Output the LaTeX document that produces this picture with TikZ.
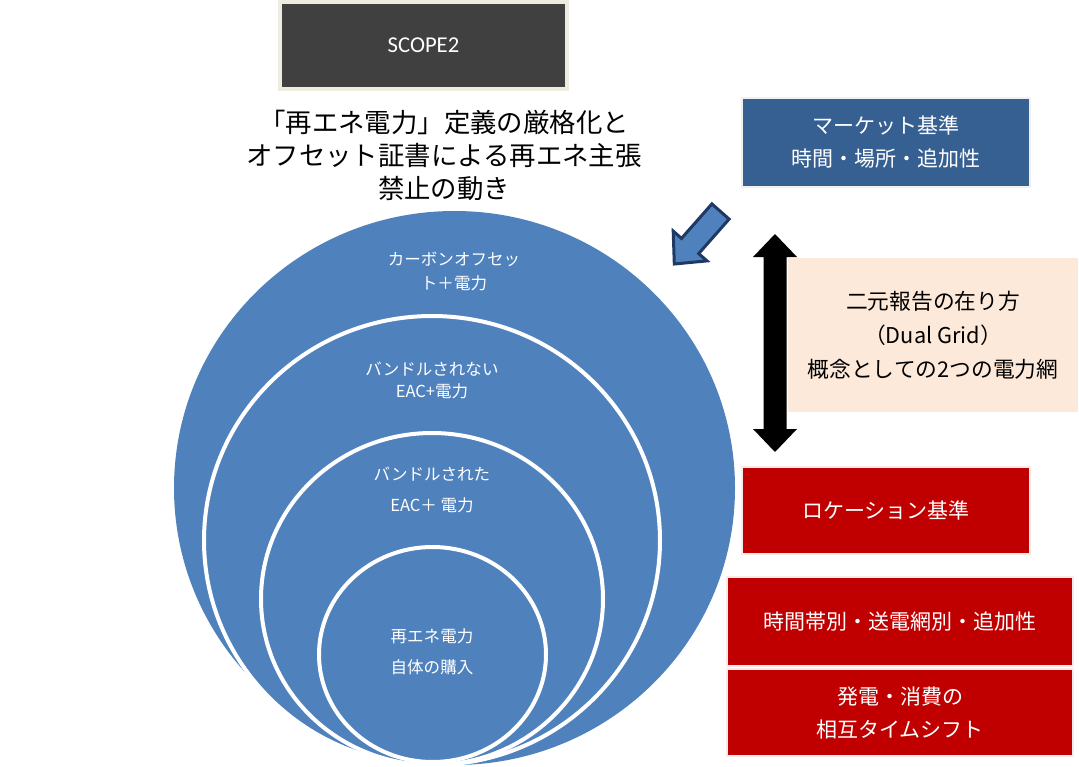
\documentclass[tikz,border=0pt]{standalone}
\usepackage{fontspec}
\setmainfont{Noto Sans CJK JP}
\newfontfamily\latinfont{Carlito}
\definecolor{cblue}{HTML}{4F81BD}
\definecolor{mblue}{HTML}{376092}
\definecolor{cred}{HTML}{C00000}
\definecolor{peach}{HTML}{FDE9D9}
\definecolor{dgray}{HTML}{404040}
\definecolor{beige}{HTML}{EEECE1}
\definecolor{navy}{HTML}{1F3864}
\begin{document}
\begin{tikzpicture}[x=0.75pt,y=-0.75pt,
  boxtxt/.style={text=white,align=center,font=\fontsize{15.75}{24.75}\selectfont,inner sep=0pt},
  ctxt/.style={text=white,align=center,inner sep=0pt},
  ring/.style={fill=cblue,draw=white,line width=3pt},
  rbox/.style={fill=cred,draw=cred!8,line width=1.5pt,inner sep=0pt}]
\useasboundingbox (0,0) rectangle (1079,767);
\clip (0,0) rectangle (1079,767);
% SCOPE2 box
\node[fill=dgray,draw=beige,line width=3pt,minimum width=215.25pt,minimum height=65.25pt,inner sep=0pt,
  text=white,font=\latinfont\fontsize{17}{20}\selectfont] (scope) at (423.5,45.5) {SCOPE2};
% title
\node[align=center,inner sep=0pt,font=\fontsize{19.8}{24.75}\selectfont] (title) at (444,155)
  {「再エネ電力」定義の厳格化と\\オフセット証書による再エネ主張\\禁止の動き};
% circles
\fill[cblue] (454.5,488) ellipse [x radius=280.5, y radius=277];
\draw[ring] (432,540.5) ellipse [x radius=228, y radius=224.5];
\draw[ring] (432,599) ellipse [x radius=171, y radius=166];
\draw[ring] (432.5,654.5) ellipse [x radius=113.5, y radius=107.5];
\node[ctxt,font=\fontsize{12.4}{18}\selectfont] (c1) at (454,271) {カーボンオフセッ\\ト＋電力};
\node[ctxt,font=\fontsize{12.4}{16.5}\selectfont] (c2) at (432,380) {バンドルされない\\EAC+電力};
\node[ctxt,font=\fontsize{12.4}{23.25}\selectfont] (c3) at (432,489.5) {バンドルされた\\EAC＋ 電力};
\node[ctxt,font=\fontsize{12.4}{23.25}\selectfont] (c4) at (432,651.5) {再エネ電力\\自体の購入};
% blue block arrow
\draw[fill=cblue,draw=navy,line width=2.25pt,line join=miter]
  (729.1,219.1) -- (698.7,253.6) -- (707.0,260.9) -- (674.3,264) -- (673.2,231.1)
  -- (681.5,238.4) -- (711.9,203.9) -- cycle;
% black double arrow
\fill[black] (775,234) -- (797,257) -- (786.5,257) -- (786.5,429) -- (797,429) -- (775,452)
  -- (753,429) -- (763.5,429) -- (763.5,257) -- (753,257) -- cycle;
% market box
\node[fill=mblue,draw=gray!12,line width=1.5pt,minimum width=216pt,minimum height=66.75pt,inner sep=0pt,boxtxt] (market) at (886,142.5)
  {マーケット基準\\時間・場所・追加性};
% dual grid box
\node[fill=peach,minimum width=217.5pt,minimum height=115.5pt,inner sep=0pt,boxtxt,text=black,
  font=\fontsize{16.3}{25.5}\selectfont] (dual) at (933,335)
  {二元報告の在り方\\（Dual Grid）\\概念としての2つの電力網};
% red boxes
\node[rbox,minimum width=216pt,minimum height=65.25pt,boxtxt] (loc) at (886,510.5) {ロケーション基準};
\node[rbox,minimum width=259.5pt,minimum height=66.75pt,boxtxt] (hourly) at (900,621.5) {時間帯別・送電網別・追加性};
\node[rbox,minimum width=259.5pt,minimum height=65.25pt,boxtxt] (shift) at (900,712.5) {発電・消費の\\相互タイムシフト};
\end{tikzpicture}
\end{document}
